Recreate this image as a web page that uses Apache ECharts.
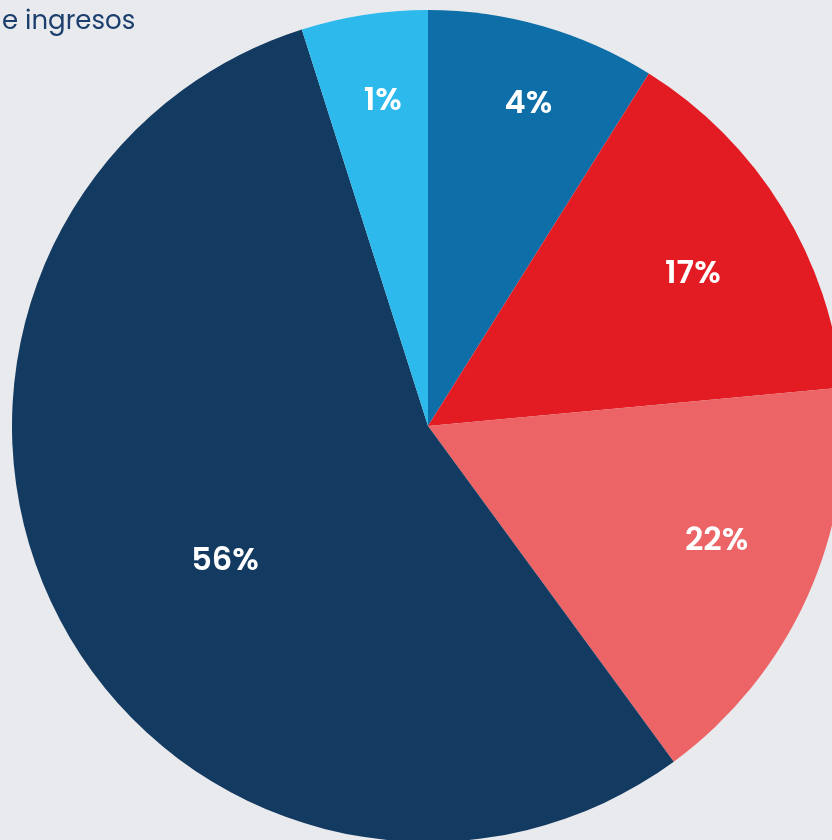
<!DOCTYPE html>
<html>
<head>
<meta charset="utf-8">
<script src="https://cdn.jsdelivr.net/npm/echarts@6/dist/echarts.min.js"></script>
<style>
  html, body { margin: 0; padding: 0; background: #E9EAEE; }
  #chart { width: 832px; height: 840px; }
</style>
</head>
<body>
<div id="chart"></div>
<script>
// Visible part of the (cropped) title
const titleText = 'e ingresos';
// Slices clockwise from 12 o'clock: angular shares
const sliceValues = [8.9, 14.6, 16.4, 55.1, 4.9];
// Labels printed on the slices
const sliceLabels = ['4%', '17%', '22%', '56%', '1%'];
const sliceColors = ['#0E6EA7', '#E31B22', '#EC6466', '#133A60', '#2DB9EC'];
// Label nudges (style only)
const labelNudges = [[10, -6], [-14, 21], [-10, -18], [89, -12], [5, 0]];

const chart = echarts.init(document.getElementById('chart'));

const pieData = sliceValues.map((v, i) => ({
  value: v,
  name: sliceLabels[i],
  itemStyle: { color: sliceColors[i] }
}));

const labelData = sliceValues.map((v, i) => ({
  value: v,
  name: sliceLabels[i],
  label: { offset: labelNudges[i] }
}));

chart.setOption({
  backgroundColor: '#E9EAEE',
  animation: false,
  title: {
    text: titleText,
    left: -3,
    top: 4,
    textStyle: {
      fontFamily: 'Poppins, Lato, "Noto Sans", sans-serif',
      fontWeight: 'normal',
      fontSize: 26,
      color: '#1C3F6D'
    }
  },
  series: [
    {
      type: 'pie',
      center: [428, 426],
      radius: ['0%', '100%'],
      startAngle: 90,
      clockwise: true,
      silent: true,
      label: { show: false },
      labelLine: { show: false },
      itemStyle: { borderWidth: 0 },
      data: pieData
    },
    {
      type: 'pie',
      center: [428, 426],
      radius: ['56%', '100%'],
      startAngle: 90,
      clockwise: true,
      silent: true,
      itemStyle: { color: 'rgba(0,0,0,0)', borderWidth: 0 },
      label: {
        show: true,
        position: 'inside',
        formatter: '{b}',
        color: '#FFFFFF',
        fontFamily: 'Poppins, Lato, "Noto Sans", sans-serif',
        fontWeight: 600,
        fontSize: 32
      },
      labelLine: { show: false },
      data: labelData
    }
  ]
});
</script>
</body>
</html>
